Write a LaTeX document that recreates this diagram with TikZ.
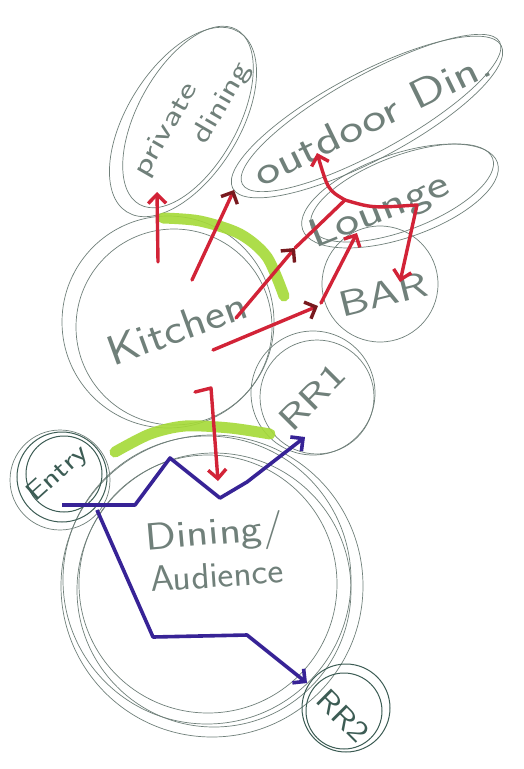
\documentclass[tikz,border=0pt]{standalone}
\usepackage{graphicx}
\usetikzlibrary{arrows.meta,shapes.geometric}
\definecolor{pencil}{RGB}{112,128,122}
\definecolor{pendark}{RGB}{60,92,84}
\definecolor{mkred}{RGB}{210,35,55}
\definecolor{mkdark}{RGB}{120,25,30}
\definecolor{mkblue}{RGB}{55,35,150}
\definecolor{mkgreen}{RGB}{165,218,55}
\newcommand\hw[2]{\scalebox{#1}[1]{#2}}
\begin{document}
\begin{tikzpicture}[x=1pt,y=-1pt,
  sk/.style={draw=pencil,line width=0.7pt},
  skd/.style={draw=pendark,line width=1pt},
  bub/.style={ellipse,sk,inner sep=0pt},
  ring/.style={circle,sk,inner sep=0pt},
  dring/.style={circle,skd,inner sep=0pt},
  lbl/.style={text=pencil,inner sep=0pt},
  hl/.style={draw=mkgreen,line width=11pt,line cap=round,opacity=0.9},
  rline/.style={draw=mkred,line width=3.4pt,line cap=round,line join=round},
  rarr/.style={rline,-{Straight Barb[length=9pt,width=18pt]}},
  rarrd/.style={rline,-{Straight Barb[length=9pt,width=18pt,color=mkdark]}},
  barr/.style={draw=mkblue,line width=3.6pt,line join=round,-{Straight Barb[length=9pt,width=18pt]}}
]
\fill[white] (0,0) rectangle (523,769);
\useasboundingbox (0,0) rectangle (523,769);

% ---- bubbles
\node[bub,minimum width=212pt,minimum height=112pt,rotate=58] (pd) at (183,122) {};
\node[bub,minimum width=200pt,minimum height=100pt,rotate=61] (pdb) at (188,117) {};
\node[bub,minimum width=304pt,minimum height=86pt,rotate=28] (od) at (367,117) {};
\node[bub,minimum width=294pt,minimum height=76pt,rotate=29] (odb) at (371,113) {};
\node[bub,minimum width=206pt,minimum height=84pt,rotate=19] (lo) at (400,196) {};
\node[bub,minimum width=194pt,minimum height=74pt,rotate=21] (lob) at (402,193) {};
\node[ring,minimum size=116pt] (bar) at (380,284) {};
\node[ring,minimum size=212pt] (kit) at (168,322) {};
\node[ring,minimum size=196pt] (kitb) at (174,327) {};
\node[ring,minimum size=124pt] (rr1) at (313,393) {};
\node[ring,minimum size=114pt] (rr1b) at (317,397) {};
\node[ring,minimum size=302pt] (din) at (212,586) {};
\node[ring,minimum size=288pt] (dinb) at (207,580) {};
\node[ring,minimum size=274pt] (dinc) at (214,590) {};
\node[ring,minimum size=258pt] (dind) at (208,584) {};
\node[dring,minimum size=90pt] (ent) at (62,477) {};
\node[dring,minimum size=76pt] (entb) at (64,474) {};
\node[ring,minimum size=100pt] (entc) at (60,480) {};
\node[dring,minimum size=88pt] (rr2) at (346,708) {};
\node[dring,minimum size=76pt] (rr2b) at (344,711) {};

% ---- green highlights
\draw[hl] plot[smooth] coordinates {(163,218) (200,221) (240,234) (267,257) (284,296)};
\draw[hl] plot[smooth] coordinates {(115,452) (150,434) (185,426) (230,428) (270,434)};

% ---- labels
\node[lbl,rotate=60,align=left,font=\sffamily\fontsize{28}{35}\selectfont] (pdt) at (193,120) {\hw{1.4}{private}\\\hspace*{58pt}\hw{1.35}{dining}};
\node[lbl,rotate=26,font=\sffamily\fontsize{40}{40}\selectfont] (odt) at (372,118) {\hw{1.3}{outdoor Din.}};
\node[lbl,rotate=22,font=\sffamily\fontsize{40}{40}\selectfont] (lot) at (380,212) {\hw{1.3}{Lounge}};
\node[lbl,rotate=14,font=\sffamily\fontsize{36}{36}\selectfont] (bart) at (383,294) {\hw{1.35}{BAR}};
\node[lbl,rotate=20,font=\sffamily\fontsize{42}{42}\selectfont] (kitt) at (177,328) {\hw{1.15}{Kitchen}};
\node[lbl,rotate=45,font=\sffamily\fontsize{34}{34}\selectfont] (rr1t) at (312,397) {\hw{1.4}{RR1}};
\node[lbl,rotate=42,font=\sffamily\fontsize{26}{26}\selectfont,text=pendark] (entt) at (58,474) {\hw{1.3}{Entry}};
\node[lbl,rotate=5,font=\sffamily\fontsize{38}{38}\selectfont] (dint1) at (215,535) {\hw{1.2}{Dining/}};
\node[lbl,rotate=4,font=\sffamily\fontsize{36}{36}\selectfont] (dint2) at (217,575) {\hw{1.05}{Audience}};
\node[lbl,rotate=-45,font=\sffamily\fontsize{30}{30}\selectfont,text=pendark] (rr2t) at (343,716) {\hw{1.2}{RR2}};

% ---- red connectors
\coordinate (a1s) at (158,262); \coordinate (a1e) at (157,192);
\draw[rarr] (a1s) -- (a1e);
\coordinate (a2s) at (192,280); \coordinate (a2e) at (234,190);
\draw[rarrd] (a2s) -- (a2e);
\coordinate (a3s) at (236,318); \coordinate (a3m) at (295,248);
\coordinate (jn) at (345,200); \coordinate (odin) at (317,153);
\coordinate (rt) at (417,205); \coordinate (bin) at (400,282);
\draw[rarrd] (a3s) -- (a3m);
\draw[rline] (a3m) -- (jn);
\draw[rarr] (jn) .. controls (328,190) .. (odin);
\draw[rarr] (jn) .. controls (372,208) .. (rt) -- (bin);
\coordinate (a4s) at (213,350); \coordinate (a4e) at (318,306);
\draw[rarrd] (a4s) -- (a4e);
\coordinate (a5s) at (321,303); \coordinate (a5e) at (357,233);
\draw[rarr] (a5s) -- (a5e);
\coordinate (a6s) at (195,392); \coordinate (a6e) at (218,481);
\draw[rarr] (a6s) -- (211,388) -- (a6e);

% ---- blue connectors
\coordinate (b1s) at (62,505); \coordinate (b1e) at (305,437);
\draw[barr] (b1s) -- (135,505) -- (170,458) -- (220,498) -- (247,482) -- (b1e);
\coordinate (b2s) at (97,510); \coordinate (b2e) at (307,683);
\draw[barr] (b2s) -- (153,637) -- (247,635) -- (b2e);
\end{tikzpicture}
\end{document}
